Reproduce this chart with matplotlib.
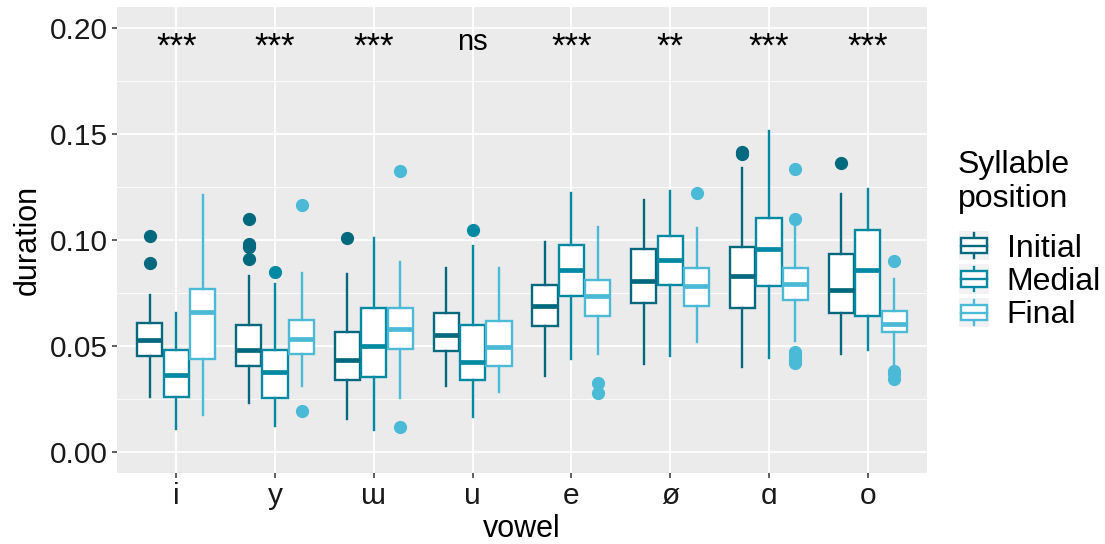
import numpy as np
import matplotlib.pyplot as plt
from matplotlib.legend_handler import HandlerBase
from matplotlib.patches import Rectangle
from matplotlib.lines import Line2D

plt.rcParams['font.family'] = ['Liberation Sans', 'DejaVu Sans']

vowels = ['i', 'y', 'ɯ', 'u', 'e', 'ø', 'ɑ', 'o']
groups = ['Initial', 'Medial', 'Final']
signif = ['***', '***', '***', 'ns', '***', '**', '***', '***']

# Initial
ini_lo = [0.0259, 0.0233, 0.0157, 0.0310, 0.0358, 0.0414, 0.0401, 0.0461]
ini_q1 = [0.0454, 0.0404, 0.0341, 0.0475, 0.0594, 0.0703, 0.0681, 0.0657]
ini_med = [0.0530, 0.0480, 0.0436, 0.0550, 0.0687, 0.0805, 0.0832, 0.0763]
ini_q3 = [0.0608, 0.0597, 0.0566, 0.0657, 0.0786, 0.0959, 0.0965, 0.0932]
ini_hi = [0.0742, 0.0830, 0.0841, 0.0868, 0.0991, 0.1190, 0.1341, 0.1219]
ini_out = [[0.102, 0.089], [0.110, 0.0983, 0.0967, 0.0909], [0.1011], [],
           [], [], [0.1415, 0.1404], [0.1363]]

# Medial
med_lo = [0.0110, 0.0121, 0.0105, 0.0165, 0.0439, 0.0451, 0.0443, 0.0483]
med_q1 = [0.0259, 0.0256, 0.0354, 0.0338, 0.0736, 0.0789, 0.0785, 0.0640]
med_med = [0.0362, 0.0377, 0.0498, 0.0425, 0.0857, 0.0904, 0.0959, 0.0857]
med_q3 = [0.0483, 0.0480, 0.0681, 0.0601, 0.0975, 0.1019, 0.1102, 0.1049]
med_hi = [0.0657, 0.0791, 0.1011, 0.0970, 0.1222, 0.1230, 0.1513, 0.1242]
med_out = [[], [0.0849], [], [0.1047], [], [], [], []]

# Final
fin_lo = [0.0173, 0.0311, 0.0256, 0.0283, 0.0464, 0.0519, 0.0522, 0.0414]
fin_q1 = [0.0437, 0.0461, 0.0486, 0.0406, 0.0640, 0.0690, 0.0719, 0.0566]
fin_med = [0.0660, 0.0535, 0.0579, 0.0495, 0.0736, 0.0781, 0.0794, 0.0602]
fin_q3 = [0.0769, 0.0624, 0.0681, 0.0616, 0.0810, 0.0868, 0.0866, 0.0665]
fin_hi = [0.1214, 0.0846, 0.0896, 0.0869, 0.1061, 0.1058, 0.1074, 0.0816]
fin_out = [[], [0.1164, 0.0192], [0.1327, 0.0118], [], [0.0327, 0.0280],
           [0.1222], [0.1335, 0.1101, 0.0472, 0.0451, 0.0432, 0.0420],
           [0.0901, 0.0380, 0.0369, 0.0346]]

colors = ['#03697e', '#0089a3', '#4abad7']

data = [
    (ini_lo, ini_q1, ini_med, ini_q3, ini_hi, ini_out),
    (med_lo, med_q1, med_med, med_q3, med_hi, med_out),
    (fin_lo, fin_q1, fin_med, fin_q3, fin_hi, fin_out),
]

fig = plt.figure(figsize=(11.05, 5.44), dpi=100)
ax = fig.add_axes([117 / 1105, 1 - 473 / 544, 810 / 1105, 466 / 544])
ax.set_facecolor('#ebebeb')

x = np.arange(1, len(vowels) + 1)
offset = 0.268
lw = 1.7

for k, (lo, q1, md, q3, hi, out) in enumerate(data):
    c = colors[k]
    stats = []
    for j in range(len(vowels)):
        stats.append(dict(whislo=lo[j], q1=q1[j], med=md[j], q3=q3[j],
                          whishi=hi[j], fliers=out[j]))
    ax.bxp(stats, positions=x + (k - 1) * offset, widths=0.255,
           patch_artist=True, showcaps=False,
           boxprops=dict(facecolor='white', edgecolor=c, linewidth=lw),
           medianprops=dict(color=c, linewidth=3.4, solid_capstyle='butt'),
           whiskerprops=dict(color=c, linewidth=lw),
           flierprops=dict(marker='o', markerfacecolor=c, markeredgecolor=c,
                           markersize=8.5, linestyle='none'),
           zorder=3)

for j, s in enumerate(signif):
    if s == 'ns':
        ax.text(x[j], 0.1898, s, ha='center', va='baseline', fontsize=21, zorder=4)
    else:
        ax.text(x[j], 0.1908, s, ha='center', va='center', fontsize=25, zorder=4)

ax.set_xlim(0.4, 8.6)
ax.set_ylim(-0.0099, 0.2099)
ax.set_xticks(x)
ax.set_xticklabels(vowels)
ax.set_yticks([0.0, 0.05, 0.10, 0.15, 0.20])
ax.set_yticklabels(['0.00', '0.05', '0.10', '0.15', '0.20'])
ax.set_yticks([0.025, 0.075, 0.125, 0.175], minor=True)
ax.grid(True, which='major', color='white', linewidth=1.3, zorder=0)
ax.grid(True, which='minor', axis='y', color='white', linewidth=0.6, zorder=0)
ax.set_axisbelow(True)
for sp in ax.spines.values():
    sp.set_visible(False)
ax.tick_params(axis='both', which='major', length=3.5, width=1.1, color='#333333',
               labelsize=21.5, labelcolor='#1a1a1a', pad=3)
ax.tick_params(axis='y', which='minor', length=0)
ax.set_xlabel('vowel', fontsize=22, labelpad=3)
ax.set_ylabel('duration', fontsize=22, labelpad=5)


class BoxKey(HandlerBase):
    def create_artists(self, legend, orig_handle, xdescent, ydescent,
                       width, height, fontsize, trans):
        c = orig_handle.get_color()
        x0, y0 = -xdescent, -ydescent
        bg = Rectangle((x0, y0), width, height, facecolor='#f2f2f2',
                       edgecolor='none', transform=trans)
        bw = width * 0.86
        bx = x0 + (width - bw) / 2
        bh = height * 0.52
        by = y0 + (height - bh) / 2
        xm = x0 + width / 2
        w1 = Line2D([xm, xm], [y0 + height * 0.08, by], color=c, lw=lw, transform=trans)
        w2 = Line2D([xm, xm], [by + bh, y0 + height * 0.92], color=c, lw=lw, transform=trans)
        box = Rectangle((bx, by), bw, bh, facecolor='white', edgecolor=c,
                        lw=lw, transform=trans)
        mline = Line2D([bx, bx + bw], [by + bh / 2] * 2, color=c, lw=lw,
                       transform=trans)
        return [bg, w1, w2, box, mline]


fig.text(958 / 1105, 1 - 165 / 544, 'Syllable', fontsize=23, va='center', ha='left')
fig.text(958 / 1105, 1 - 199 / 544, 'position', fontsize=23, va='center', ha='left')

handles = [Line2D([], [], color=c) for c in colors]
leg = fig.legend(handles, groups,
                 handler_map={Line2D: BoxKey()}, loc='upper left',
                 bbox_to_anchor=(959 / 1105, 1 - 231 / 544), frameon=False,
                 fontsize=23, handlelength=0.94,
                 handleheight=1.03, labelspacing=0.03, handletextpad=0.55,
                 borderpad=0, borderaxespad=0)

fig.savefig('out.png', dpi=100)
